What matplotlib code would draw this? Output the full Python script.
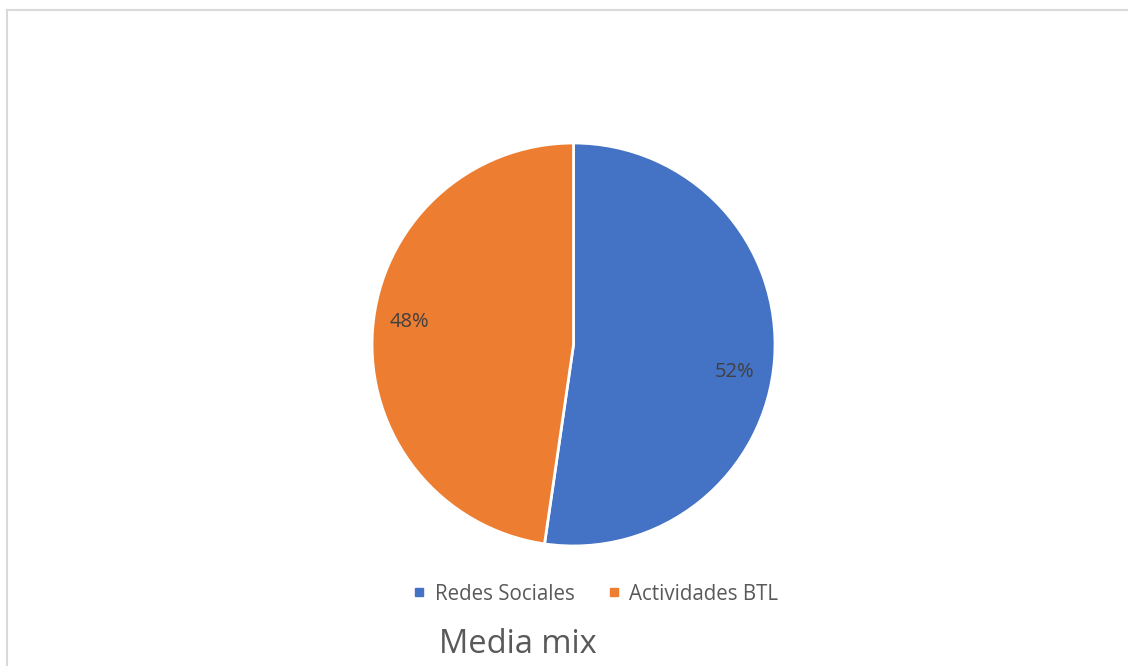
import matplotlib.pyplot as plt
from matplotlib.lines import Line2D

plt.rcParams['font.family'] = ['Open Sans', 'DejaVu Sans']

# data
labels = ["Redes Sociales", "Actividades BTL"]
shares = [52.3, 47.7]
colors = ["#4472C4", "#ED7D31"]
title = "Media mix"

fig = plt.figure(figsize=(11.28, 6.66), dpi=100)
fig.patch.set_facecolor("white")

### pie area (centre and radius)
ax = fig.add_axes([0.3298, 0.1802, 0.3573, 0.6051])
wedges, texts, autotexts = ax.pie(shares, colors=colors, startangle=90, counterclock=False,
                                  autopct="%1.0f%%", pctdistance=0.82,
                                  wedgeprops=dict(edgecolor="white", linewidth=2),
                                  textprops=dict(color="#404040", fontsize=14.5))
ax.set_xlim(-1, 1)
ax.set_ylim(-1, 1)
ax.set_aspect("equal")
ax.axis("off")
# excel puts the labels a bit off the wedge middle
autotexts[0].set_position((0.80, -0.135))
autotexts[1].set_position((-0.815, 0.11))

### legend
handles = [Line2D([], [], marker="s", linestyle="none", markersize=6,
                  markerfacecolor=c, markeredgecolor=c) for c in colors]
fig.legend(handles, labels, loc="center", bbox_to_anchor=(0.528, 0.108), ncol=2,
           frameon=False, fontsize=14.8, handlelength=0.6, handletextpad=0.45,
           columnspacing=1.6, labelcolor="#595959")

fig.text(0.459, 0.0195, title, ha="center", va="baseline", fontsize=23.5, color="#595959")

### grey frame, left and top only
fig.add_artist(Line2D([7/1128, 7/1128], [0, 1 - 9.5/666], color="#d9d9d9", linewidth=1.5))
fig.add_artist(Line2D([7/1128, 1], [1 - 9.5/666, 1 - 9.5/666], color="#d9d9d9", linewidth=1.5))

plt.savefig("out.png", dpi=100, facecolor="white")
